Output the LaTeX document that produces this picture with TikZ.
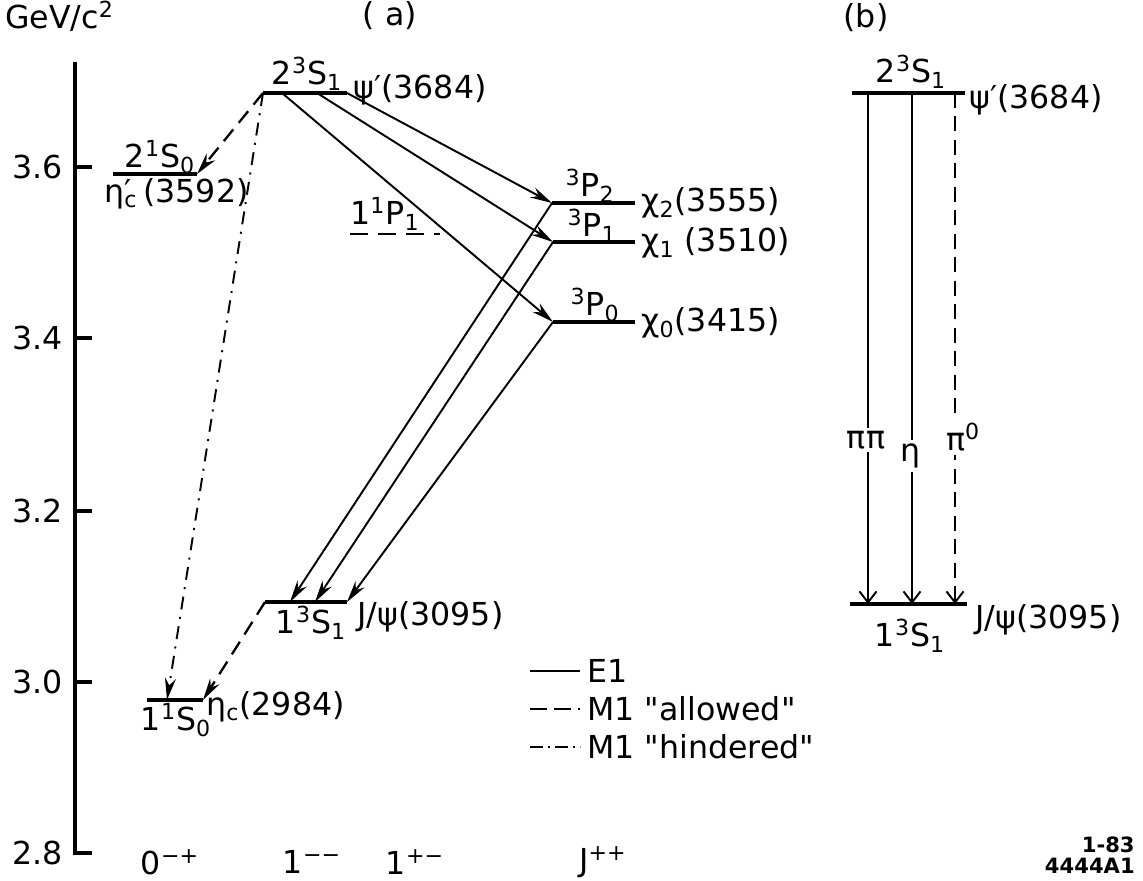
\documentclass[tikz,border=0pt]{standalone}
\usepackage{fontspec}
\setmainfont{DejaVu Sans}
\usetikzlibrary{arrows.meta}
\newcommand{\etapc}{η\makebox[0.6em][l]{\rlap{\textsubscript{c}}′}}
\begin{document}
\begin{tikzpicture}[x=0.02cm,y=-0.02cm,
  lvl/.style={line width=1.9pt},
  axisline/.style={line width=1.9pt},
  tipa/.style={-{Stealth[length=0.44cm,width=0.22cm]}},
  tipb/.style={-{Straight Barb[length=0.22cm,width=0.34cm,line width=1.1pt]}},
  eone/.style={line width=1.1pt},
  mallowed/.style={line width=1.3pt,dash pattern=on 0.3cm off 0.17cm},
  mhindered/.style={line width=1.1pt,dash pattern=on 0.26cm off 0.15cm on 0.04cm off 0.15cm},
  txt/.style={inner sep=0pt,font=\fontsize{18}{20}\selectfont},
  small/.style={inner sep=0pt,font=\fontsize{12}{13}\selectfont\bfseries},
  gap/.style={txt,fill=white,inner sep=2pt}]
\useasboundingbox (0,0) rectangle (1143,881);

% ---------- axis ----------
\coordinate (axtop) at (75,62);
\coordinate (axbot) at (75,853);
\coordinate (axfoot) at (92,853);
\draw[axisline] (axtop) -- (axbot) -- (axfoot);
\foreach \yy/\lab/\nm in {167/3.6/t36,338/3.4/t34,511/3.2/t32,682/3.0/t30}{
  \coordinate (\nm a) at (75,\yy);
  \coordinate (\nm b) at (92,\yy);
  \draw[axisline] (\nm a) -- (\nm b);
  \node[txt,anchor=east] (\nm) at (63,\yy) {\lab};
}
\node[txt,anchor=east] (t28) at (63,853) {2.8};
\node[txt,anchor=west] (unit) at (5,16) {GeV/c\textsuperscript{2}};
\node[txt] (pa) at (390,16) {( a)};
\node[txt] (pb) at (866,18) {(b)};

% ---------- levels (a) ----------
\coordinate (psiL) at (263,93);  \coordinate (psiR) at (347,93);
\coordinate (psiA) at (317,93);  \coordinate (psiB) at (282,93);
\coordinate (etpL) at (113,174); \coordinate (etpR) at (197,174);
\coordinate (ppL) at (350,234);  \coordinate (ppR) at (440,234);
\coordinate (c2L) at (552,203);  \coordinate (c2R) at (635,203);
\coordinate (c1L) at (553,242);  \coordinate (c1R) at (635,242);
\coordinate (c0L) at (553,322);  \coordinate (c0R) at (635,322);
\coordinate (jL) at (265,602);   \coordinate (jR) at (347,602);
\coordinate (jA) at (290,602);   \coordinate (jB) at (315,602);
\coordinate (ecL) at (147,700);  \coordinate (ecR) at (203,700);
\coordinate (ecA) at (167,700);

\draw[lvl] (psiL) -- (psiR);
\draw[lvl] (etpL) -- (etpR);
\draw[line width=1.6pt,dash pattern=on 0.36cm off 0.2cm] (ppL) -- (ppR);
\draw[lvl] (c2L) -- (c2R);
\draw[lvl] (c1L) -- (c1R);
\draw[lvl] (c0L) -- (c0R);
\draw[lvl] (jL) -- (jR);
\draw[lvl] (ecL) -- (ecR);

% ---------- transitions (a) ----------
\draw[mallowed,tipa] (psiL) -- (etpR);
\draw[mhindered,tipa] (psiL) -- (ecA);
\draw[eone,tipa] (psiR) -- (c2L);
\draw[eone,tipa] (psiA) -- (c1L);
\draw[eone,tipa] (psiB) -- (c0L);
\draw[eone,tipa] (c2L) -- (jA);
\draw[eone,tipa] (c1L) -- (jB);
\draw[eone,tipa] (c0L) -- (jR);
\draw[mallowed,tipa] (jL) -- (ecR);

% ---------- labels (a) ----------
\node[txt] (l2s0) at (160,157) {2\textsuperscript{1}S\textsubscript{0}};
\node[txt,anchor=west] (letap) at (104,194) {\etapc(3592)};
\node[txt] (l23s1) at (307,74) {2\textsuperscript{3}S\textsubscript{1}};
\node[txt,anchor=west] (lpsi) at (353,90) {ψ′(3684)};
\node[txt,anchor=west] (l1p1) at (350,214) {1\textsuperscript{1}P\textsubscript{1}};
\node[txt] (l3p2) at (590,186) {\textsuperscript{3}P\textsubscript{2}};
\node[txt] (l3p1) at (592,226) {\textsuperscript{3}P\textsubscript{1}};
\node[txt] (l3p0) at (595,305) {\textsuperscript{3}P\textsubscript{0}};
\node[txt,anchor=west] (lc2) at (641,203) {χ\textsubscript{2}(3555)};
\node[txt,anchor=west] (lc1) at (641,243) {χ\textsubscript{1} (3510)};
\node[txt,anchor=west] (lc0) at (641,323) {χ\textsubscript{0}(3415)};
\node[txt] (l13s1) at (311,623) {1\textsuperscript{3}S\textsubscript{1}};
\node[txt,anchor=west] (ljpsi) at (357,617) {J/ψ(3095)};
\node[txt] (l11s0) at (176,720) {1\textsuperscript{1}S\textsubscript{0}};
\node[txt,anchor=west] (letac) at (206,707) {η\textsubscript{c}(2984)};

% ---------- legend ----------
\coordinate (lg1a) at (530,671); \coordinate (lg1b) at (580,671);
\coordinate (lg2a) at (530,709); \coordinate (lg2b) at (580,709);
\coordinate (lg3a) at (530,747); \coordinate (lg3b) at (580,747);
\draw[eone] (lg1a) -- (lg1b);
\draw[line width=1.3pt,dash pattern=on 0.34cm off 0.14cm] (lg2a) -- (lg2b);
\draw[line width=1.1pt,dash pattern=on 0.26cm off 0.1cm on 0.04cm off 0.1cm] (lg3a) -- (lg3b);
\node[txt,anchor=west] (lge1) at (587,671) {E1};
\node[txt,anchor=west] (lgm1a) at (587,709) {M1 \textquotedbl allowed\textquotedbl};
\node[txt,anchor=west] (lgm1h) at (587,747) {M1 \textquotedbl hindered\textquotedbl};

% ---------- quantum numbers ----------
\node[txt] (q0) at (170,862) {0\textsuperscript{−+}};
\node[txt] (q1) at (312,862) {1\textsuperscript{−−}};
\node[txt] (q2) at (415,862) {1\textsuperscript{+−}};
\node[txt] (q3) at (603,862) {J\textsuperscript{++}};

% ---------- panel (b) ----------
\coordinate (bpL) at (852,93);  \coordinate (bpR) at (965,93);
\coordinate (bjL) at (850,604); \coordinate (bjR) at (967,604);
\coordinate (b1t) at (868,93);  \coordinate (b1b) at (868,604);
\coordinate (b2t) at (912,93);  \coordinate (b2b) at (912,604);
\coordinate (b3t) at (955,93);  \coordinate (b3b) at (955,604);
\draw[lvl] (bpL) -- (bpR);
\draw[lvl] (bjL) -- (bjR);
\draw[eone,tipb] (b1t) -- (b1b);
\draw[eone,tipb] (b2t) -- (b2b);
\draw[line width=1.3pt,dash pattern=on 0.3cm off 0.17cm,tipb] (b3t) -- (b3b);
\node[gap] (lpipi) at (866,440) {ππ};
\node[gap] (leta) at (911,456) {η};
\node[gap] (lpi0) at (963,437) {π\textsuperscript{0}};
\node[txt] (b23s1) at (911,72) {2\textsuperscript{3}S\textsubscript{1}};
\node[txt,anchor=west] (bpsi) at (969,100) {ψ′(3684)};
\node[txt,anchor=west] (bjpsi) at (975,620) {J/ψ(3095)};
\node[txt] (b13s1) at (910,636) {1\textsuperscript{3}S\textsubscript{1}};

% ---------- figure id ----------
\node[small,anchor=east] (id1) at (1135,845) {1-83};
\node[small,anchor=east] (id2) at (1135,866) {4444A1};
\end{tikzpicture}
\end{document}
